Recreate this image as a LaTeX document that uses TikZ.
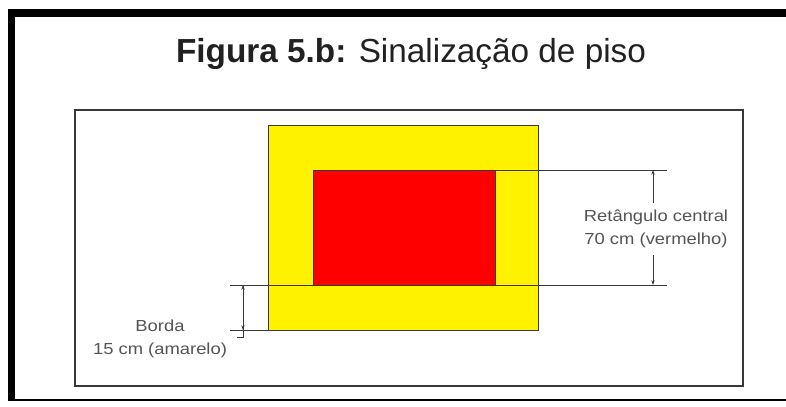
\documentclass[tikz,border=0pt]{standalone}
\usepackage{fontspec}
\setmainfont{Liberation Sans}
\newfontfamily\labfont[FakeStretch=1.15]{Liberation Sans}
\usetikzlibrary{arrows.meta}
\usetikzlibrary{positioning}
\definecolor{dimgray}{rgb}{0.22, 0.22, 0.22}
\definecolor{labgray}{rgb}{0.33, 0.33, 0.33}
\definecolor{titlegray}{rgb}{0.13, 0.13, 0.13}
\tikzset{dim/.style = {draw = dimgray, line width = 0.7pt}}
\tikzset{tip/.style = {-{Stealth[length = 3.5pt, width = 2.5pt]}}}
\tikzset{lab/.style = {align = center, text = labgray, inner xsep = 0, inner ysep = 5pt,
    font = \labfont\fontsize{12}{17.25}\selectfont}}

\begin{document}
\begin{tikzpicture}[x = 0.75pt, y = -0.75pt]
      \useasboundingbox (0, 0) rectangle (786, 407);
      \clip (0, 0) rectangle (786, 407);
      \fill [white] (0, 0) rectangle (786, 407);

      \draw [line width = 5.6pt] (11.75, 401) -- (11.75, 13) -- (800, 13);
      \draw [line width = 2.2pt] (8, 400) -- (800, 400);

      \node [anchor = base, text = titlegray, font = \fontsize{25}{30}\selectfont] (title) at (411, 62)
            {\textbf{Figura 5.b:} Sinalização de piso};

      \draw [line width = 1.1pt, dimgray] (75, 110) rectangle (743, 386);

      \draw [fill = yellow, dim] (268, 125) rectangle (538, 330);
      \draw [fill = red, dim] (313, 170) rectangle (495, 285);

      \coordinate (redtop) at (495, 170);
      \coordinate (rtop) at (667, 170);
      \coordinate (lmid) at (230, 285);
      \coordinate (rbot) at (667, 285);
      \coordinate (lbot) at (230, 330);
      \coordinate (ylwbot) at (268, 330);

      \draw [dim] (redtop) -- (rtop);
      \draw [dim] (lmid) -- (rbot);
      \draw [dim] (lbot) -- (ylwbot);

      \node [lab] (rlab) at (656, 229) {Retângulo central\\70 cm (vermelho)};
      \coordinate (rarrtop) at (653, 170);
      \coordinate (rarrbot) at (653, 285);
      \draw [dim, tip] (rarrtop |- rlab.north) -- (rarrtop);
      \draw [dim, tip] (rarrbot |- rlab.south) -- (rarrbot);

      \node [lab] (llab) at (160, 339) {Borda\\15 cm (amarelo)};
      \coordinate (larrtop) at (243, 285);
      \coordinate (larrbot) at (243, 330);
      \draw [dim, tip] (larrbot) -- (larrtop);
      \draw [dim, tip] (larrtop) -- (larrbot);
      \draw [dim] (larrbot) -- ++(0, 7) -- ++(-6, 0);
    \end{tikzpicture}
\end{document}
